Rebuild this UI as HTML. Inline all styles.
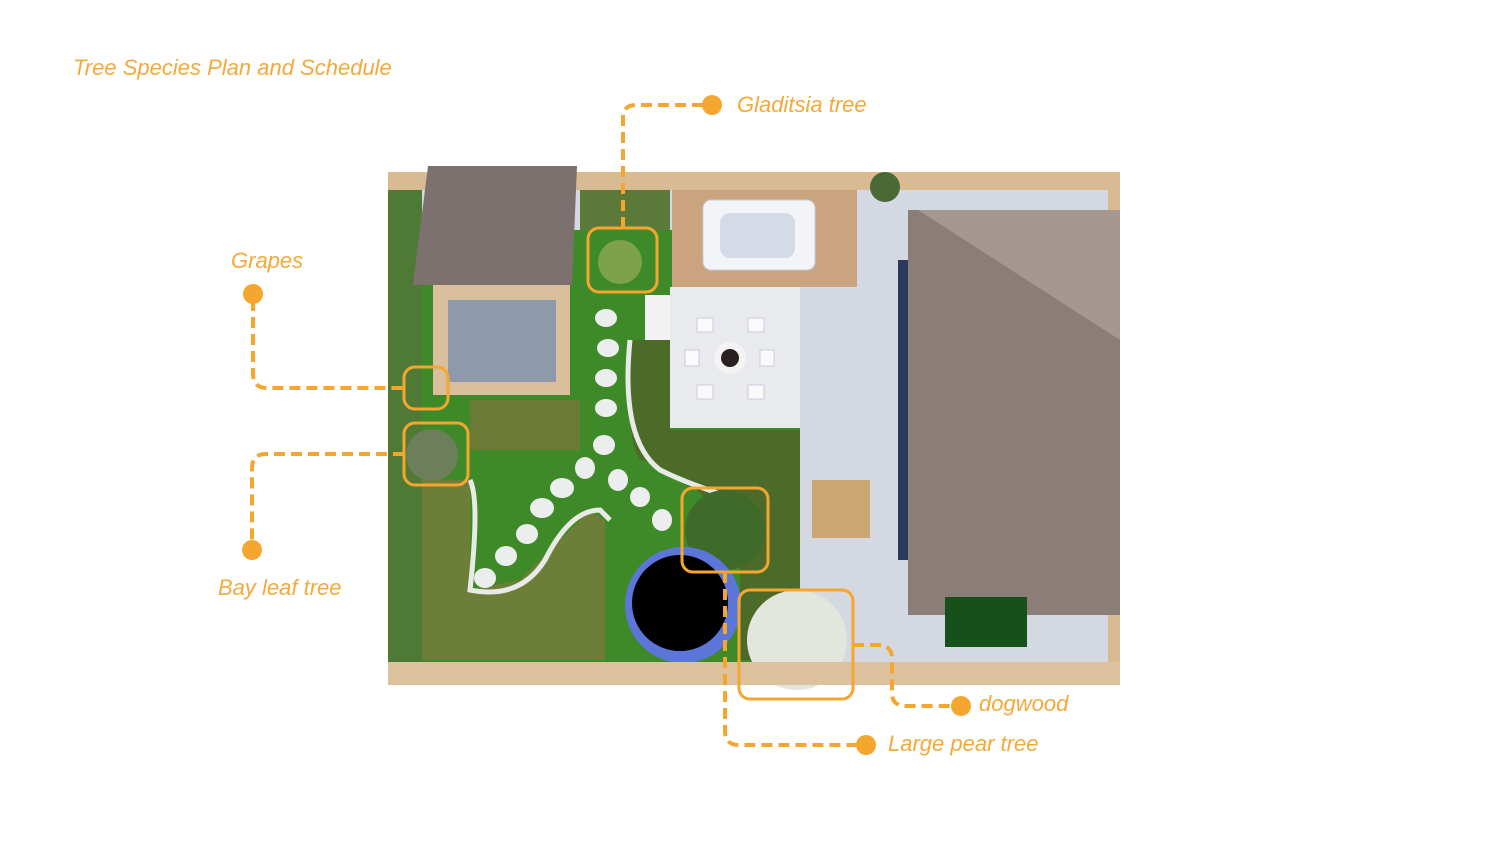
<!DOCTYPE html>
<html><head><meta charset="utf-8"><style>
html,body{margin:0;padding:0;background:#fff;}
body{width:1500px;height:844px;overflow:hidden;position:relative;font-family:"Liberation Sans",sans-serif;}
.t{position:absolute;color:#f4a93a;font-style:italic;font-size:22px;white-space:nowrap;}
</style></head><body>
<svg width="1500" height="844" style="position:absolute;left:0;top:0">
<!-- base plan -->
<rect x="388" y="172" width="732" height="513" fill="#d8bb92"/>
<rect x="400" y="190" width="708" height="472" fill="#d4d9e1"/>
<!-- left hedge -->
<rect x="388" y="190" width="34" height="475" fill="#4e7a35"/>
<!-- lawn -->
<rect x="422" y="230" width="378" height="432" fill="#3f8a28"/>
<!-- planting beds -->
<rect x="580" y="190" width="90" height="40" fill="#5b7a3a"/>
<path d="M630 340 L670 340 L670 430 L800 430 L800 660 L740 660 L740 540 Q690 470 640 460 Q625 440 630 340Z" fill="#4c6b28"/>
<path d="M470 400 L580 400 L580 450 L470 450Z" fill="#6b7a35"/>
<path d="M422 480 L470 480 L470 590 L520 580 Q560 540 590 510 L605 520 L605 660 L422 660Z" fill="#6c7e38"/>
<path d="M470 480 Q480 500 470 590 Q520 600 545 560 Q570 510 600 510 L610 520" fill="none" stroke="#e8eae8" stroke-width="5"/>
<path d="M630 340 Q620 440 660 470 Q690 485 740 500" fill="none" stroke="#e8eae8" stroke-width="5"/>
<!-- stepping stones -->
<g fill="#eceeee">
<ellipse cx="606" cy="318" rx="11" ry="9"/><ellipse cx="608" cy="348" rx="11" ry="9"/><ellipse cx="606" cy="378" rx="11" ry="9"/><ellipse cx="606" cy="408" rx="11" ry="9"/><ellipse cx="604" cy="445" rx="11" ry="10"/><ellipse cx="585" cy="468" rx="10" ry="11"/><ellipse cx="618" cy="480" rx="10" ry="11"/><ellipse cx="562" cy="488" rx="12" ry="10"/><ellipse cx="640" cy="497" rx="10" ry="10"/><ellipse cx="542" cy="508" rx="12" ry="10"/><ellipse cx="662" cy="520" rx="10" ry="11"/><ellipse cx="527" cy="534" rx="11" ry="10"/><ellipse cx="506" cy="556" rx="11" ry="10"/><ellipse cx="485" cy="578" rx="11" ry="10"/>
</g>
<!-- deck & hot tub -->
<rect x="672" y="190" width="185" height="97" fill="#caa47f"/>
<rect x="703" y="200" width="112" height="70" rx="8" fill="#f3f4f7" stroke="#c7ccd6"/>
<rect x="720" y="213" width="75" height="45" rx="10" fill="#d5dbe6"/>
<!-- patio -->
<rect x="670" y="287" width="130" height="141" fill="#e8eaee"/>
<rect x="645" y="295" width="25" height="45" fill="#f2f2f2"/>
<circle cx="730" cy="358" r="16" fill="#f3f3f3"/><circle cx="730" cy="358" r="9" fill="#2a2020"/>
<g fill="#fafafa" stroke="#ccd"><rect x="697" y="318" width="16" height="14"/><rect x="748" y="318" width="16" height="14"/><rect x="685" y="350" width="14" height="16"/><rect x="760" y="350" width="14" height="16"/><rect x="697" y="385" width="16" height="14"/><rect x="748" y="385" width="16" height="14"/></g>
<!-- shed -->
<rect x="433" y="283" width="137" height="112" fill="#d9bf9c"/>
<rect x="448" y="300" width="108" height="82" fill="#8e9aab"/>
<polygon points="428,166 577,166 572,285 413,285" fill="#7c716e"/>
<!-- house roof -->
<rect x="908" y="210" width="212" height="405" fill="#8b7d77"/>
<polygon points="918,210 1120,210 1120,340" fill="#a59890"/>
<rect x="898" y="260" width="10" height="300" fill="#2c3a5a"/>
<!-- picnic + pingpong -->
<rect x="812" y="480" width="58" height="58" fill="#c9a673"/>
<rect x="945" y="597" width="82" height="50" fill="#16501b"/>
<!-- plant at top -->
<circle cx="885" cy="187" r="15" fill="#4a6a35"/>
<!-- trees -->
<circle cx="620" cy="262" r="22" fill="#7da24c"/>
<circle cx="432" cy="455" r="26" fill="#6d7f5a"/>
<circle cx="725" cy="530" r="40" fill="#3f6a2a"/>
<!-- trampoline -->
<circle cx="683" cy="605" r="58" fill="#5b76d8"/>
<circle cx="680" cy="603" r="48" fill="#000"/>
<circle cx="797" cy="640" r="50" fill="#e2e6dc"/>
<!-- bottom fence -->
<rect x="388" y="662" width="732" height="23" fill="#dcc29d"/>
<!-- orange annotations -->
<g fill="none" stroke="#f5a62f" stroke-width="3">
<rect x="588" y="228" width="69" height="64" rx="11"/>
<rect x="404" y="367" width="44" height="42" rx="11"/>
<rect x="404" y="423" width="64" height="62" rx="11"/>
<rect x="682" y="488" width="86" height="84" rx="11"/>
<rect x="739" y="590" width="114" height="109" rx="11"/>
</g>
<g fill="none" stroke="#f5a62f" stroke-width="4" stroke-dasharray="11,6">
<path d="M703 105 L636 105 Q623 105 623 118 L623 228"/>
<path d="M253 300 L253 374 Q253 388 267 388 L404 388"/>
<path d="M404 454 L266 454 Q252 454 252 468 L252 545"/>
<path d="M725 572 L725 731 Q725 745 739 745 L858 745"/>
<path d="M853 645 L878 645 Q892 645 892 659 L892 693 Q892 706 906 706 L952 706"/>
</g>
<g fill="#f5a62f">
<circle cx="712" cy="105" r="10"/><circle cx="253" cy="294" r="10"/><circle cx="252" cy="550" r="10"/><circle cx="866" cy="745" r="10"/><circle cx="961" cy="706" r="10"/>
</g>
</svg>
<div class="t" style="left:73px;top:55px">Tree Species Plan and Schedule</div>
<div class="t" style="left:737px;top:92px">Gladitsia tree</div>
<div class="t" style="left:231px;top:248px">Grapes</div>
<div class="t" style="left:218px;top:575px">Bay leaf tree</div>
<div class="t" style="left:979px;top:691px">dogwood</div>
<div class="t" style="left:888px;top:731px">Large pear tree</div>
</body></html>
